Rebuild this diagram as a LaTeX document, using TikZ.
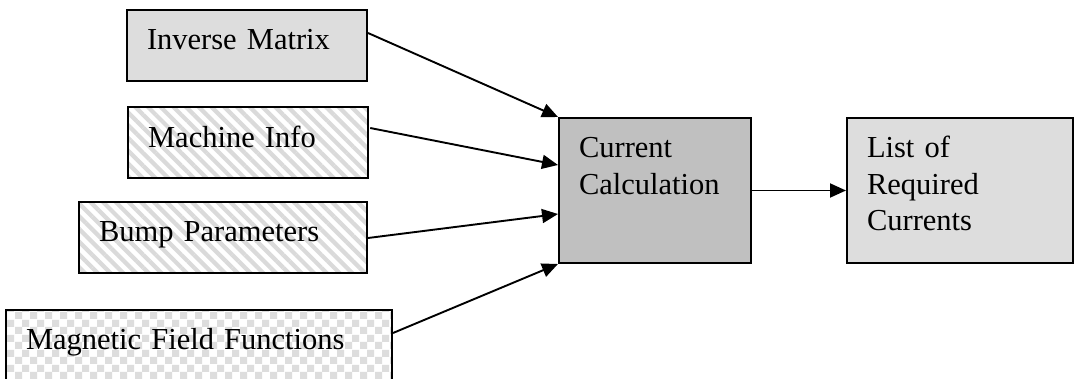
\documentclass[tikz,border=0pt]{standalone}
\usepackage{fontspec}
\setmainfont{Liberation Serif}
\usetikzlibrary{arrows.meta,patterns,patterns.meta,calc}

% checkerboard fill for the field-function input
\pgfdeclarepatternformonly{checkers}{\pgfpointorigin}{\pgfpoint{15pt}{15pt}}{\pgfpoint{15pt}{15pt}}{%
  \pgfpathrectangle{\pgfpointorigin}{\pgfpoint{7.5pt}{7.5pt}}%
  \pgfpathrectangle{\pgfpoint{7.5pt}{7.5pt}}{\pgfpoint{7.5pt}{7.5pt}}%
  \pgfusepath{fill}}

\definecolor{paneLight}{HTML}{DDDDDD}
\definecolor{paneMid}{HTML}{C0C0C0}
\definecolor{hatchGray}{HTML}{DADADA}

\begin{document}
\begin{tikzpicture}[x=1pt,y=-1pt,
  blk/.style={draw=black, line width=2pt, anchor=north west,
    inner xsep=20pt, inner ysep=0pt, align=left,
    font=\fontsize{30.5}{36.5}\selectfont, text height=40pt},
  short/.style={text depth=31pt},
  tall/.style={text depth=105pt},
  solidgray/.style={fill=paneLight},
  darkgray/.style={fill=paneMid},
  hatched/.style={fill=white, pattern={Lines[angle=-45,distance=9pt,line width=4.2pt]}, pattern color=hatchGray},
  checked/.style={fill=white, pattern=checkers, pattern color=paneLight},
  flow/.style={-{Triangle[length=16pt,width=14pt]}, line width=1.9pt}
]
\useasboundingbox (0,0) rectangle (1074,379);
\fill[white] (0,0) rectangle (1074,379);
\clip (0,0) rectangle (1074,379);

% inputs
\node[blk, short, solidgray, text width=200pt] (inv)  at (126,9)   {Inverse Matrix};
\node[blk, short, hatched,   text width=200pt] (mach) at (126,105) {Machine Info};
\node[blk, short, hatched,   text width=248pt] (bump) at (78,201)  {Bump Parameters};
\node[blk, short, checked,   text width=346pt] (mag)  at (5,309)   {Magnetic Field Functions};

% processing and result
\node[blk, tall, darkgray,  text width=152pt] (calc) at (558,117) {Current\\Calculation};
\node[blk, tall, solidgray, text width=186pt] (list) at (846,117) {List of\\Required\\Currents};

% connectors
\draw[flow] ($(inv.north east)+(0,24)$)  -- (calc.north west);
\draw[flow] ($(mach.north east)+(0,23)$) -- ($(calc.north west)+(0,48)$);
\draw[flow] ($(bump.north east)+(0,37)$) -- ($(calc.north west)+(0,97)$);
\draw[flow] ($(mag.north east)+(0,24)$)  -- (calc.south west);
\draw[flow] (calc.east) -- (list.west);
\end{tikzpicture}
\end{document}
